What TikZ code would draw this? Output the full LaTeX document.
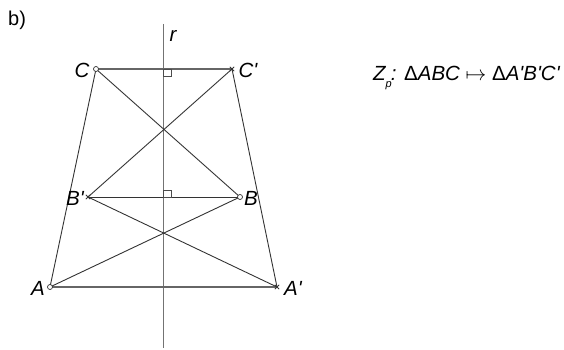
\documentclass[tikz,border=0pt]{standalone}
\usepackage{fontspec}
\setmainfont{Liberation Sans}
\newfontfamily\lblfont{Liberation Sans}
\usepackage{amsmath,amssymb}
\usetikzlibrary{shapes.misc}
\begin{document}
\begin{tikzpicture}[x=1pt,y=-1pt,
  seg/.style={draw=black!80, line width=0.9pt},
  graysg/.style={draw=black!60, line width=1.1pt},
  axisln/.style={draw=black!55, line width=1.3pt},
  lbl/.style={font=\lblfont\fontsize{20.5}{20.5}\selectfont\itshape, inner sep=0pt},
  opt/.style={circle, draw=black!80, fill=white, line width=0.7pt, minimum size=5pt, inner sep=0pt},
  crs/.style={cross out, draw=black!80, line width=0.8pt, minimum size=3.5pt, inner sep=0pt},
  rang/.style={draw=black!70, line width=0.8pt}]
\useasboundingbox (0,0) rectangle (564,350);
% axis
\coordinate (rt) at (163.5,24);
\coordinate (rb) at (163.5,348);
\draw[axisln] (rt) -- (rb);
% points
\coordinate (C) at (96,69);
\coordinate (Cp) at (232,69);
\coordinate (Bp) at (88,197);
\coordinate (B) at (240,197);
\coordinate (A) at (50,287);
\coordinate (Ap) at (277,287);
% segments
\draw[graysg] (C) -- (Cp);
\draw[graysg] (A) -- (Ap);
\draw[seg] (Bp) -- (B);
\draw[seg] (A) -- (C);
\draw[seg] (Ap) -- (Cp);
\draw[seg] (C) -- (B);
\draw[seg] (Cp) -- (Bp);
\draw[seg] (Bp) -- (Ap);
\draw[seg] (B) -- (A);
% right angles
\draw[rang] (163.5,69) rectangle (171,76);
\draw[rang] (163.5,197) rectangle (171,190);
% markers
\node[opt] (mC) at (C) {};
\node[opt] (mB) at (B) {};
\node[opt] (mA) at (A) {};
\node[crs] (mCp) at (Cp) {};
\node[crs] (mBp) at (Bp) {};
\node[crs] (mAp) at (Ap) {};
% labels
\node[lbl] (lC) at (82,70) {C};
\node[lbl] (lCp) at (248,70) {C'};
\node[lbl] (lBp) at (75,198) {B'};
\node[lbl] (lB) at (251,198) {B};
\node[lbl] (lA) at (38,288) {A};
\node[lbl] (lAp) at (293,288) {A'};
\node[lbl] (lr) at (173,36) {r};
\node[font=\lblfont\fontsize{20}{20}\selectfont, inner sep=0pt, anchor=base west] (lb) at (8,26) {b)};
\node[font=\lblfont\fontsize{20.5}{20.5}\selectfont\itshape, inner sep=0pt, anchor=base west] (map) at (373,81)
  {Z\raisebox{-0.3em}{\fontsize{11}{11}\selectfont p}\kern-1pt: \upshape Δ\itshape ABC \upshape$\mapsto$ Δ\itshape A'B'C'};
\end{tikzpicture}
\end{document}
